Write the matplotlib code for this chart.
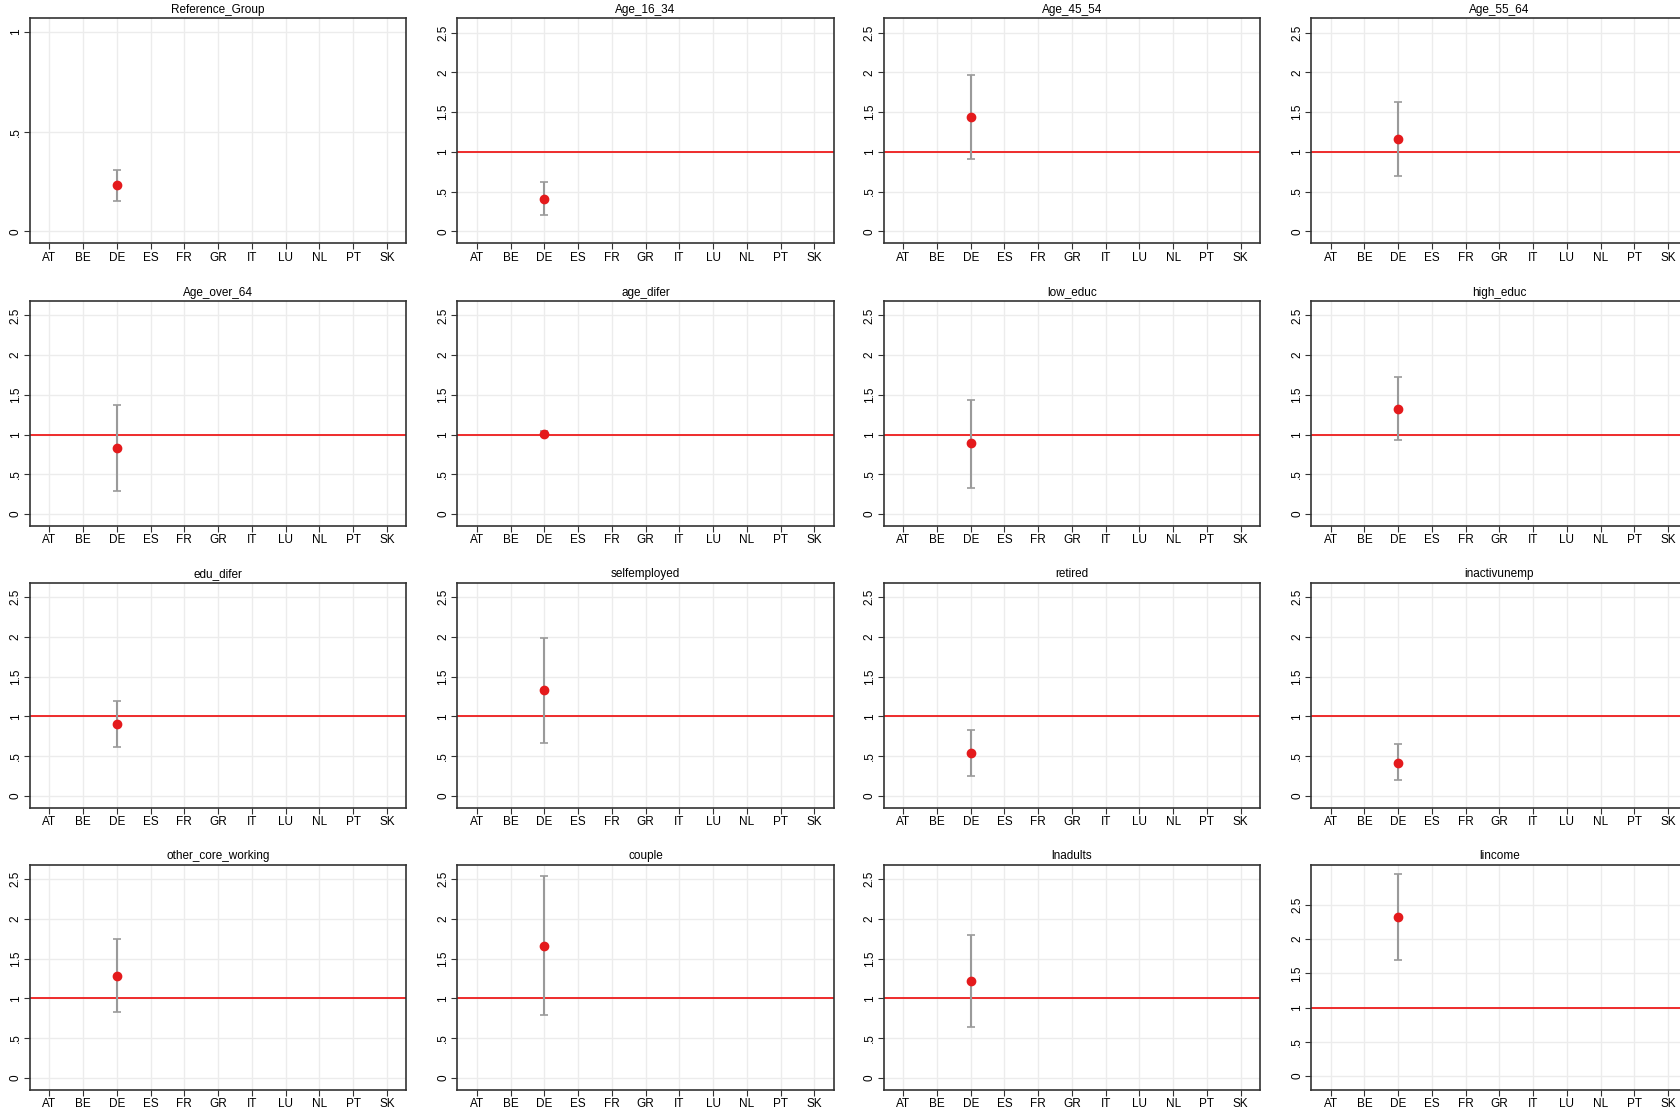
import matplotlib
matplotlib.use("Agg")
import matplotlib.pyplot as plt
import numpy as np

plt.rcParams["font.family"] = ["Liberation Sans", "DejaVu Sans"]

countries = ["AT", "BE", "DE", "ES", "FR", "GR", "IT", "LU", "NL", "PT", "SK"]
titles = ["Reference_Group", "Age_16_34", "Age_45_54", "Age_55_64",
          "Age_over_64", "age_difer", "low_educ", "high_educ",
          "edu_difer", "selfemployed", "retired", "inactivunemp",
          "other_core_working", "couple", "lnadults", "lincome"]
# odds ratio estimates for DE, with lower / upper CI bounds
est = [0.23, 0.41, 1.44, 1.16, 0.83, 1.01, 0.89, 1.32,
       0.91, 1.33, 0.54, 0.42, 1.28, 1.66, 1.22, 2.33]
lo = [0.15, 0.20, 0.91, 0.70, 0.29, 0.98, 0.33, 0.93,
      0.62, 0.67, 0.25, 0.20, 0.83, 0.79, 0.64, 1.69]
hi = [0.31, 0.62, 1.97, 1.62, 1.37, 1.04, 1.44, 1.72,
      1.20, 1.99, 0.83, 0.65, 1.74, 2.54, 1.79, 2.95]
point_country = "DE"

W, H = 1568.0, 1035.0
lefts = [28, 427, 825, 1224]
tops = [17, 281, 544, 807]
pw, ph = 351, 210

fig = plt.figure(figsize=(16.8, 11.09), dpi=100)
xi = countries.index(point_country)
for k, title in enumerate(titles):
    r, c = divmod(k, 4)
    ax = fig.add_axes([lefts[c] / W, 1 - (tops[r] + ph) / H, pw / W, ph / H])
    if k == 0:
        ax.set_ylim(-0.06, 1.07)
        ax.set_yticks([0, 0.5, 1])
        ax.set_yticklabels(["0", ".5", "1"])
    else:
        if k == 15:
            ax.set_ylim(-0.2, 3.09)
        else:
            ax.set_ylim(-0.15, 2.68)
        ax.set_yticks([0, 0.5, 1, 1.5, 2, 2.5])
        ax.set_yticklabels(["0", ".5", "1", "1.5", "2", "2.5"])
        ax.axhline(1, color="#ee1c1c", linewidth=1.3, zorder=2)
    ax.set_xlim(-0.57, len(countries) - 0.43)
    ax.set_xticks(np.arange(len(countries)))
    ax.set_xticklabels(countries)
    ax.grid(True, color="#ececec", linewidth=1)
    ax.set_axisbelow(True)
    ax.errorbar([xi], [est[k]], yerr=[[est[k] - lo[k]], [hi[k] - est[k]]],
                fmt="none", ecolor="#9a9a9a", elinewidth=1.5, capsize=3,
                capthick=1.2, zorder=3)
    ax.plot([xi], [est[k]], "o", color="#e41a1c", markersize=6, zorder=4)
    ax.set_title(title, fontsize=8.5, pad=4)
    for lbl in ax.get_yticklabels():
        lbl.set_rotation(90)
        lbl.set_va("center")
    ax.tick_params(axis="both", labelsize=8.5, length=4, pad=2, color="#333333")
    for s in ax.spines.values():
        s.set_linewidth(1.2)
        s.set_color("#333333")

fig.savefig("out.png", dpi=100)
plt.close()
